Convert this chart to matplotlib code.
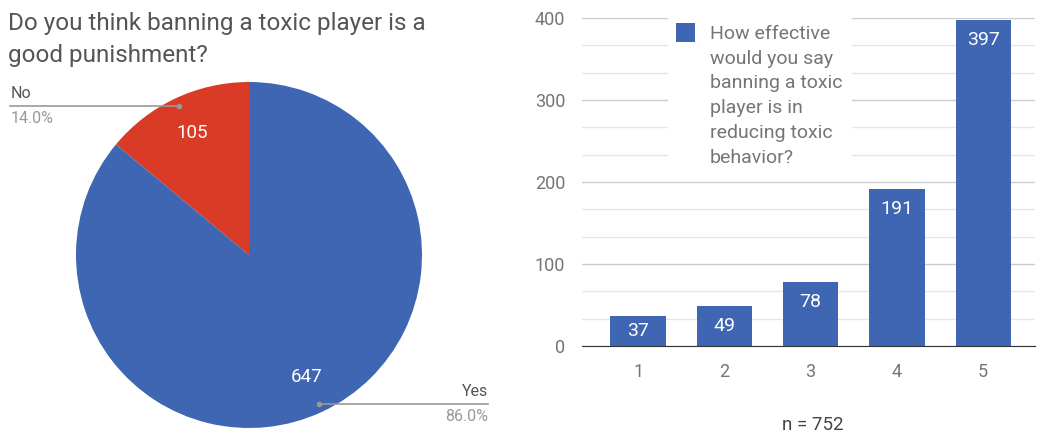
import numpy as np
import matplotlib.pyplot as plt
from matplotlib.patches import Rectangle

plt.rcParams['font.family'] = ['Roboto', 'DejaVu Sans']

# pie: "Do you think banning a toxic player is a good punishment?"
pie_labels = ['No', 'Yes']
pie_counts = [105, 647]
pie_colors = ['#d93b26', '#3e66b2']

# bars: effectiveness rating 1..5
ratings = ['1', '2', '3', '4', '5']
rating_counts = [37, 49, 78, 191, 397]
bar_color = '#3e66b2'
legend_text = 'How effective\nwould you say\nbanning a toxic\nplayer is in\nreducing toxic\nbehavior?'

W, H = 1039, 432
fig = plt.figure(figsize=(W / 100, H / 100), dpi=100)

grey = '#757575'
dark = '#444444'


def fx(px):
    return px / W


def fy(py):
    return 1 - py / H


# ---- pie ----
cx, cy, r = 249, 255, 173
ax1 = fig.add_axes([fx(cx - r), fy(cy + r), 2 * r / W, 2 * r / H])
total = sum(pie_counts)
wedges, _, autotexts = ax1.pie(
    pie_counts, colors=pie_colors, startangle=90, counterclock=True,
    autopct=lambda p: f'{round(p * total / 100)}', pctdistance=0.78,
    textprops=dict(color='white', fontsize=13.5))
ax1.set_xlim(-1, 1)
ax1.set_ylim(-1, 1)
ax1.set_aspect('equal')

fig.text(fx(8), fy(30), 'Do you think banning a toxic player is a',
         ha='left', va='baseline', fontsize=17.5, color='#555555')
fig.text(fx(8), fy(62), 'good punishment?',
         ha='left', va='baseline', fontsize=17.5, color='#555555')

# leader lines with label and percentage
for w, lab, cnt in zip(wedges, pie_labels, pie_counts):
    ang = np.deg2rad((w.theta1 + w.theta2) / 2)
    px, py = 0.95 * np.cos(ang), 0.95 * np.sin(ang)
    end = -1.38 if px < 0 else 1.38
    ha = 'left' if px < 0 else 'right'
    ax1.plot([px, end], [py, py], color='#999999', lw=1.2, clip_on=False)
    ax1.plot([px], [py], 'o', color='#999999', ms=3, clip_on=False)
    ax1.text(end, py + 0.03, lab, ha=ha, va='bottom', fontsize=11.5, color='#555555')
    ax1.text(end, py - 0.03, f'{100 * cnt / total:.1f}%', ha=ha, va='top',
             fontsize=11.5, color='#999999')

# ---- bars ----
ax2 = fig.add_axes([fx(582), fy(346), (1035 - 582) / W, (346 - 18) / H])
x = np.arange(1, len(ratings) + 1)
bars = ax2.bar(x, rating_counts, width=0.64, color=bar_color, zorder=3)
ax2.set_xlim(0.35, 5.6)
ax2.set_ylim(0, 400)
ax2.set_yticks([0, 100, 200, 300, 400])
ax2.set_yticks(np.arange(0, 400, 100 / 3), minor=True)
ax2.set_xticks(x)
ax2.set_xticklabels(ratings)
ax2.grid(axis='y', which='major', color='#cccccc', lw=1, zorder=0)
ax2.grid(axis='y', which='minor', color='#e6e6e6', lw=1, zorder=0)
ax2.tick_params(axis='both', which='both', length=0, labelsize=13, colors=grey)
ax2.tick_params(axis='y', pad=12)
ax2.tick_params(axis='x', pad=12)
for s in ['top', 'right', 'left']:
    ax2.spines[s].set_visible(False)
ax2.spines['bottom'].set_color('#333333')
ax2.spines['bottom'].set_zorder(4)

# value labels: near the top of tall bars, centred in short ones
for b, v in zip(bars, rating_counts):
    ax2.text(b.get_x() + b.get_width() / 2, v - min(v / 2, 24.4), str(v),
             ha='center', va='center', color='white', fontsize=14, zorder=5)

# legend box (white background hides gridlines behind it)
fig.patches.append(Rectangle((fx(668), fy(176)), (852 - 668) / W, (176 - 10) / H,
                             transform=fig.transFigure, facecolor='white',
                             edgecolor='none', zorder=1))
ax2.set_zorder(0)
ax2.patch.set_visible(False)
fig.patches.append(Rectangle((fx(676), fy(42)), 19 / W, 19 / H,
                             transform=fig.transFigure, facecolor=bar_color,
                             edgecolor='none', zorder=2))
fig.text(fx(710), fy(25), legend_text, ha='left', va='top', fontsize=14,
         color=grey, linespacing=1.48, zorder=3)

fig.text(fx(813), fy(425), 'n = 752', ha='center', va='center', fontsize=13.5, color=dark)

fig.savefig('out.png', dpi=100)
